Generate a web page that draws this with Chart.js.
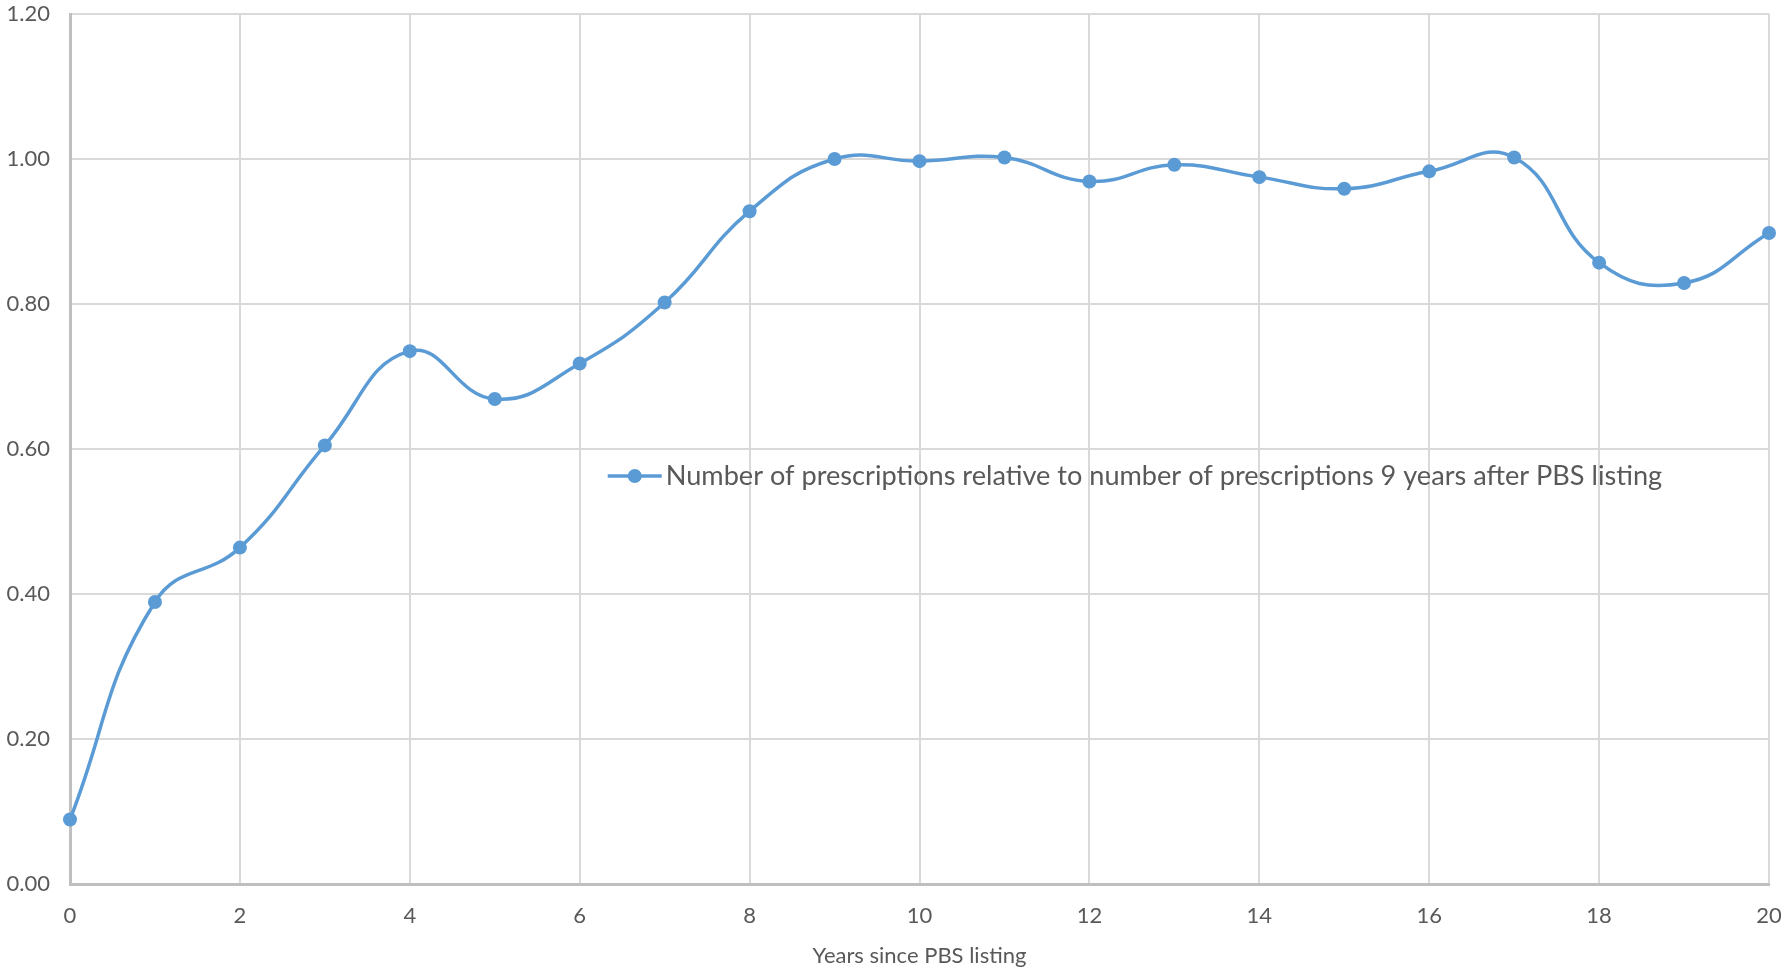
<!DOCTYPE html>
<html lang="en">
<head>
    <meta charset="UTF-8">
    <title>Prescriptions relative to year 9</title>
    <script src="https://cdn.jsdelivr.net/npm/chart.js"></script>
    <style>
        html, body { margin: 0; padding: 0; background: #fff; }
        #wrap { width: 1782px; height: 969px; }
    </style>
</head>
<body>
    <div id="wrap"><canvas id="chart" width="1782" height="969"></canvas></div>
    <script>
        const years = [0, 1, 2, 3, 4, 5, 6, 7, 8, 9, 10, 11, 12, 13, 14, 15, 16, 17, 18, 19, 20];
        const relative = [0.089, 0.389, 0.464, 0.605, 0.735, 0.669, 0.718, 0.802, 0.928, 1.000, 0.997,
                          1.002, 0.969, 0.992, 0.975, 0.959, 0.983, 1.002, 0.857, 0.829, 0.898];
        const seriesName = "Number of prescriptions relative to number of prescriptions 9 years after PBS listing";
        const xTitle = "Years since PBS listing";

        const blue = "#5b9bd5";
        const txt = "#595959";
        const fontFam = "Lato, 'Open Sans', sans-serif";

        // legend sits inside the plot, like the Excel original
        const innerLegend = {
            id: "innerLegend",
            afterDraw(chart) {
                const { ctx, chartArea: a } = chart;
                const x0 = a.left + (a.right - a.left) * 0.3165;
                const y = a.top + (a.bottom - a.top) * 0.531;
                const textEnd = a.left + (a.right - a.left) * 0.9375;
                ctx.save();
                ctx.strokeStyle = blue;
                ctx.lineWidth = 3.5;
                ctx.beginPath();
                ctx.moveTo(x0, y);
                ctx.lineTo(x0 + 54, y);
                ctx.stroke();
                ctx.fillStyle = blue;
                ctx.beginPath();
                ctx.arc(x0 + 27, y, 7, 0, Math.PI * 2);
                ctx.fill();
                const tx = x0 + 58;
                let size = 25;
                ctx.font = size + "px " + fontFam;
                const w = ctx.measureText(seriesName).width;
                size = size * (textEnd - tx) / w;
                ctx.font = size + "px " + fontFam;
                ctx.fillStyle = txt;
                ctx.textBaseline = "middle";
                ctx.fillText(seriesName, tx, y);
                ctx.restore();
            }
        };

        const ctx = document.getElementById("chart").getContext("2d");
        new Chart(ctx, {
            type: "line",
            data: {
                datasets: [{
                    label: seriesName,
                    data: years.map((x, i) => ({ x, y: relative[i] })),
                    borderColor: blue,
                    backgroundColor: blue,
                    borderWidth: 3.5,
                    pointRadius: 7,
                    pointBorderWidth: 0,
                    tension: 0.45,
                    clip: false,
                    fill: false
                }]
            },
            options: {
                responsive: false,
                animation: false,
                layout: { padding: { left: 0, right: 13, top: 14, bottom: 0 } },
                plugins: { legend: { display: false }, tooltip: { enabled: false } },
                scales: {
                    x: {
                        type: "linear",
                        min: 0, max: 20,
                        ticks: { stepSize: 2, color: txt, font: { family: fontFam, size: 22 }, padding: 19 },
                        grid: { color: "#d9d9d9", lineWidth: 2, drawTicks: false },
                        border: { color: "#bfbfbf", width: 3 },
                        title: { display: true, text: xTitle, color: txt, font: { family: fontFam, size: 22 }, padding: { top: 11, bottom: 0 } },
                        afterFit(s) { s.height = 85; s.paddingLeft = 0; s.paddingRight = 0; }
                    },
                    y: {
                        min: 0, max: 1.2,
                        ticks: { stepSize: 0.2, color: txt, font: { family: fontFam, size: 22 }, padding: 20,
                                 callback: v => v.toFixed(2) },
                        grid: { color: "#d9d9d9", lineWidth: 2, drawTicks: false },
                        border: { color: "#bfbfbf", width: 3 },
                        afterFit(s) { s.width = 70; s.paddingTop = 0; s.paddingBottom = 0; }
                    }
                }
            },
            plugins: [innerLegend]
        });
    </script>
</body>
</html>
